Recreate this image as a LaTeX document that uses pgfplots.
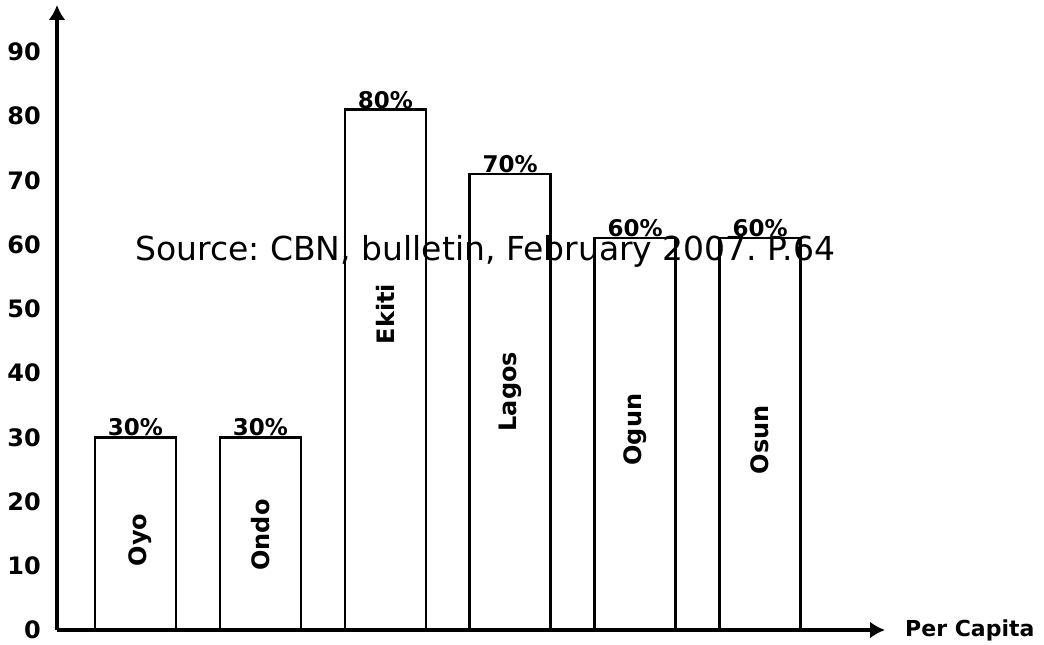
\documentclass[border=0pt]{standalone}
\usepackage{pgfplots}
\pgfplotsset{compat=1.18}
\usepackage{fontspec}
\setmainfont{DejaVu Sans}
\usetikzlibrary{arrows.meta}
\frenchspacing
\begin{document}
\begin{tikzpicture}
\begin{axis}[
  width=828pt, height=625pt, scale only axis,
  xmin=-0.628, xmax=6.0, ymin=0, ymax=97.3,
  axis lines=left,
  axis line style={draw=none},
  xtick=\empty, ytick={0,10,...,90},
  major tick length=0pt,
  /pgf/number format/assume math mode=true,
  yticklabel style={font=\fontsize{24}{28}\selectfont\bfseries, anchor=east, inner sep=0pt, xshift=-16pt},
  clip=false,
]
\addplot[ybar, bar width=81pt, fill=white, draw=black, line width=2.6pt,
  nodes near coords, point meta=explicit symbolic,
  nodes near coords style={font=\fontsize{23}{27}\selectfont\bfseries, anchor=south, inner sep=0pt}]
  coordinates {(0,30)[30\%] (1,30)[30\%] (2,81)[80\%] (3,71)[70\%] (4,61)[60\%] (5,61)[60\%]};
\addplot[only marks, mark=none, nodes near coords, point meta=explicit symbolic,
  nodes near coords style={rotate=90, anchor=center, font=\fontsize{24}{28}\selectfont\bfseries}]
  coordinates {(0.04,14)[Oyo] (1,14.8)[Ondo] (2,49.2)[Ekiti] (3,37.1)[Lagos] (4,31.2)[Ogun] (5,29.6)[Osun]};
\coordinate (O) at (rel axis cs:0,0);
\coordinate (XE) at (rel axis cs:1,0);
\coordinate (YE) at (rel axis cs:0,1);
\node[font=\fontsize{33}{38}\selectfont, anchor=base] at (axis cs:2.8,57.6) {Source: CBN, bulletin, February 2007. P.64};
\node[font=\fontsize{22}{26}\selectfont\bfseries, anchor=west, inner sep=0pt, xshift=20pt] at (axis cs:6.0,0) {Per Capita};
\end{axis}
\draw[line width=3.5pt,-{Latex[length=15pt,width=17pt]}] (O) -- (XE);
\draw[line width=3.5pt,-{Latex[length=15pt,width=17pt]}] (O) -- (YE);
\pgfresetboundingbox
\path (-57pt,-15pt) rectangle (987pt,630pt);
\end{tikzpicture}
\end{document}
